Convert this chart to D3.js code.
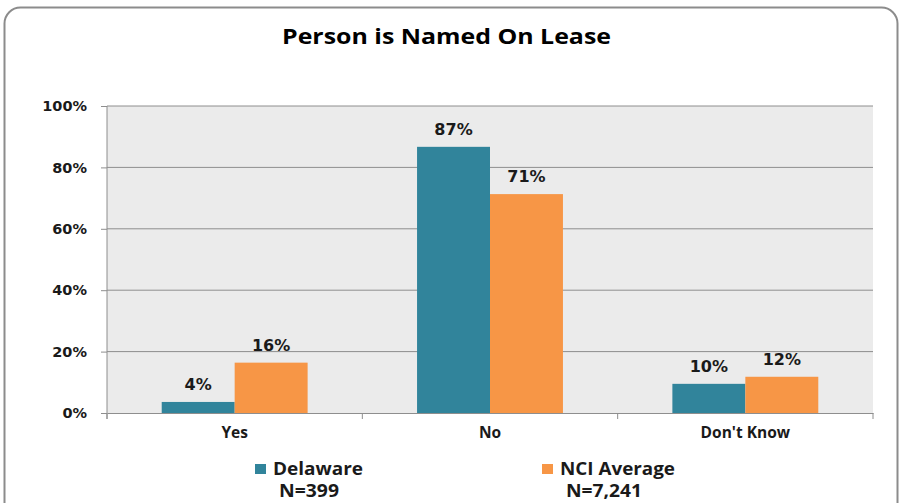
<!DOCTYPE html>
<html>
<head>
<meta charset="utf-8">
<script src="https://cdn.jsdelivr.net/npm/d3@7"></script>
<style>
  body { margin: 0; background: #fff; }
</style>
</head>
<body>
<svg id="chart" width="902" height="503"></svg>
<script>
// chart data
var categories = ["Yes", "No", "Don't Know"];
var seriesNames = ["Delaware", "NCI Average"];
var delaware = [3.6, 86.7, 9.5];
var nciAverage = [16.4, 71.3, 11.8];
var sampleSizes = ["N=399", "N=7,241"];
var yTicks = [0, 20, 40, 60, 80, 100];

var colors = ["#31849b", "#f79646"];

var svg = d3.select("#chart"),
    margin = {top: 106, right: 29, bottom: 90, left: 107},
    width = +svg.attr("width") - margin.left - margin.right,
    height = +svg.attr("height") - margin.top - margin.bottom;

// outer rounded frame
svg.append("rect")
    .attr("x", 4.5).attr("y", 7.5)
    .attr("width", 893).attr("height", 520)
    .attr("rx", 16)
    .attr("fill", "#fff")
    .attr("stroke", "#8c8c8c")
    .attr("stroke-width", 2);

svg.append("text")
    .attr("x", 282).attr("y", 44)
    .attr("font-family", "'Open Sans', sans-serif")
    .attr("font-weight", "bold")
    .attr("font-size", 22)
    .attr("textLength", 329)
    .attr("lengthAdjust", "spacingAndGlyphs")
    .text("Person is Named On Lease");

var g = svg.append("g").attr("transform", "translate(" + margin.left + "," + margin.top + ")");

var x0 = d3.scaleBand().domain(categories).range([0, width]).padding(0);
var x1 = d3.scaleBand().domain(seriesNames).range([0, x0.bandwidth()]).paddingInner(0).paddingOuter(0.75);
var y = d3.scaleLinear().domain([0, 100]).range([height, 0]);

var rows = categories.map(function(c, i) {
  return {cat: c, values: [delaware[i], nciAverage[i]]};
});

// plot background
g.append("rect")
    .attr("width", width).attr("height", height)
    .attr("fill", "#ebebeb");

// grid
g.append("g")
    .selectAll("line")
    .data(yTicks.slice(1))
    .enter().append("line")
      .attr("x1", 0).attr("x2", width)
      .attr("y1", function(d) { return y(d); })
      .attr("y2", function(d) { return y(d); })
      .attr("stroke", "#8e8e8e")
      .attr("stroke-width", 1);

// bars
var groups = g.append("g")
  .selectAll("g")
  .data(rows)
  .enter().append("g")
    .attr("transform", function(d) { return "translate(" + x0(d.cat) + ",0)"; });

groups.selectAll("rect")
  .data(function(d) { return d.values.map(function(v, i) { return {key: seriesNames[i], v: v, i: i}; }); })
  .enter().append("rect")
    .attr("x", function(d) { return x1(d.key); })
    .attr("y", function(d) { return y(d.v); })
    .attr("width", x1.bandwidth())
    .attr("height", function(d) { return height - y(d.v); })
    .attr("fill", function(d) { return colors[d.i]; });

groups.selectAll("text")
  .data(function(d) { return d.values.map(function(v, i) { return {key: seriesNames[i], v: v}; }); })
  .enter().append("text")
    .attr("x", function(d) { return x1(d.key) + x1.bandwidth() / 2; })
    .attr("y", function(d) { return y(d.v) - 12; })
    .attr("text-anchor", "middle")
    .attr("font-family", "DejaVu Sans, sans-serif")
    .attr("font-weight", "bold")
    .attr("font-size", 16)
    .attr("fill", "#1a1a1a")
    .text(function(d) { return Math.round(d.v) + "%"; });

// y axis
var yAxis = g.append("g")
    .call(d3.axisLeft(y).tickValues(yTicks).tickSize(6).tickPadding(14).tickFormat(function(d) { return d + "%"; }));
yAxis.select(".domain").attr("stroke", "#8e8e8e").attr("d", "M0,0V" + (height + 6));
yAxis.selectAll(".tick line").attr("stroke", "#8e8e8e");
yAxis.selectAll("text")
    .attr("font-family", "DejaVu Sans, sans-serif")
    .attr("font-weight", "bold")
    .attr("font-size", 14.5)
    .attr("fill", "#1a1a1a");

// x axis
var xAxis = g.append("g")
    .attr("transform", "translate(0," + height + ")")
    .call(d3.axisBottom(x0).tickSize(0).tickPadding(14));
xAxis.select(".domain").attr("stroke", "#8e8e8e");
xAxis.selectAll("text")
    .attr("font-family", "'Open Sans', sans-serif")
    .attr("font-weight", "bold")
    .attr("font-size", 15.5)
    .attr("fill", "#1a1a1a");
xAxis.selectAll(".sep")
    .data(d3.range(categories.length + 1))
    .enter().append("line")
      .attr("class", "sep")
      .attr("x1", function(i) { return i * x0.step(); })
      .attr("x2", function(i) { return i * x0.step(); })
      .attr("y1", 0).attr("y2", 6)
      .attr("stroke", "#8e8e8e");

// legend
var legendX = [255, 542];
var legendW = [90, 115];
var nCenter = [54, 62];
var nW = [60, 76];
var legend = svg.append("g")
  .selectAll("g")
  .data(seriesNames)
  .enter().append("g")
    .attr("transform", function(d, i) { return "translate(" + legendX[i] + ",0)"; });

legend.append("rect")
    .attr("x", 0).attr("y", 464)
    .attr("width", 11).attr("height", 10)
    .attr("fill", function(d, i) { return colors[i]; });

legend.append("text")
    .attr("x", 18)
    .attr("y", 475)
    .attr("font-family", "'Open Sans', sans-serif")
    .attr("font-weight", "bold")
    .attr("font-size", 17.5)
    .attr("textLength", function(d, i) { return legendW[i]; })
    .attr("lengthAdjust", "spacingAndGlyphs")
    .attr("fill", "#1a1a1a")
    .text(function(d) { return d; });

legend.append("text")
    .attr("x", function(d, i) { return nCenter[i] - nW[i] / 2; })
    .attr("y", 497)
    .attr("font-family", "'Open Sans', sans-serif")
    .attr("font-weight", "bold")
    .attr("font-size", 17.5)
    .attr("textLength", function(d, i) { return nW[i]; })
    .attr("lengthAdjust", "spacingAndGlyphs")
    .attr("fill", "#1a1a1a")
    .text(function(d, i) { return sampleSizes[i]; });
</script>
</body>
</html>
